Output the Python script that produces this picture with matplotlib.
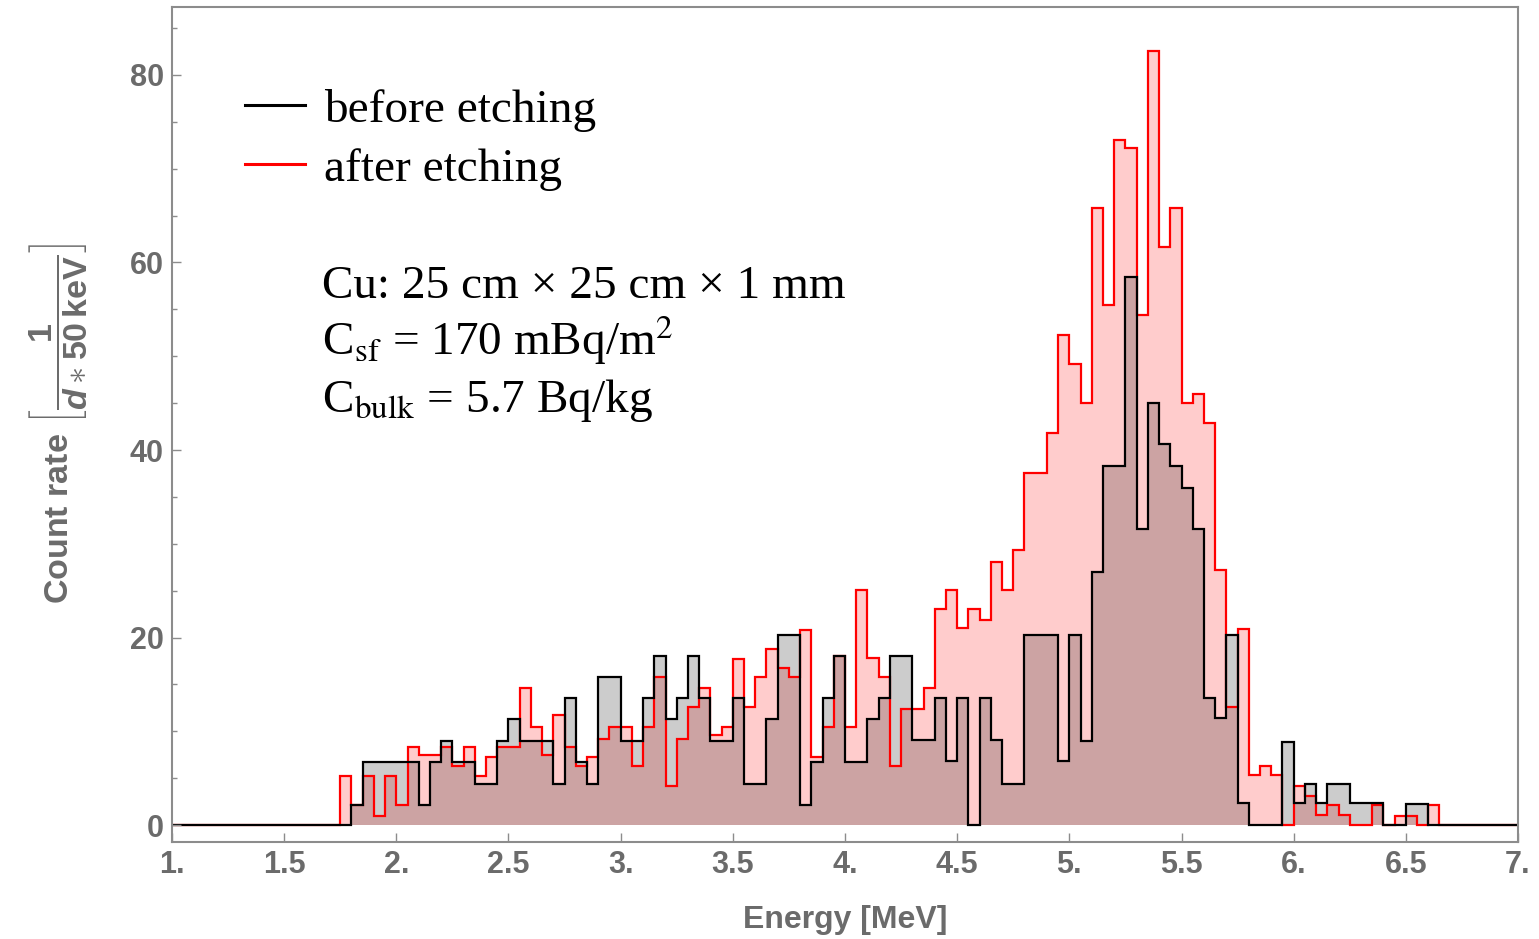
#!/usr/bin/env python

import numpy as np
import matplotlib
matplotlib.use('Agg')
import matplotlib.pyplot as plt
import matplotlib.ticker as plticker
from matplotlib.lines import Line2D

# Data: count rate per 50 keV bin, bins start at 1.75 MeV

bin_lo = 1.75
bin_hi = 6.65
bin_w = 0.05

before = [0.0, 2.1, 6.7, 6.7, 6.7, 6.7, 6.7, 2.1, 6.7, 9.0,
          6.7, 6.7, 4.4, 4.4, 9.0, 11.3, 9.0, 9.0, 9.0, 4.4,
          13.5, 6.7, 4.4, 15.8, 15.8, 9.0, 9.0, 13.6, 18.0, 11.3,
          13.6, 18.0, 13.6, 9.0, 9.0, 13.6, 4.4, 4.4, 11.3, 20.3,
          20.3, 2.1, 6.7, 13.6, 18.0, 6.7, 6.7, 11.3, 13.6, 18.0,
          18.0, 9.1, 9.1, 13.5, 6.8, 13.5, 0.0, 13.5, 9.1, 4.4,
          4.4, 20.3, 20.3, 20.3, 6.8, 20.3, 9.0, 27.0, 38.3, 38.3,
          58.5, 31.6, 45.0, 40.6, 38.3, 36.0, 31.6, 13.6, 11.4, 20.3,
          2.3, 0.0, 0.0, 0.0, 8.9, 2.3, 4.4, 2.3, 4.4, 4.4,
          2.3, 2.3, 2.3, 0.0, 0.0, 2.2, 2.2, 0.0]

after = [5.2, 2.1, 5.2, 1.0, 5.2, 2.1, 8.3, 7.5, 7.5, 8.3,
         6.3, 8.3, 5.2, 7.3, 8.3, 8.3, 14.6, 10.5, 7.5, 11.7,
         8.3, 6.3, 7.3, 9.2, 10.5, 10.5, 6.3, 10.5, 15.8, 4.2,
         9.2, 12.6, 14.6, 9.6, 10.5, 17.7, 12.6, 15.8, 18.8, 16.7,
         15.8, 20.8, 7.3, 10.5, 18.0, 10.5, 25.1, 17.8, 15.8, 6.3,
         12.4, 12.4, 14.6, 23.0, 25.1, 21.0, 23.0, 21.9, 28.1, 25.1,
         29.3, 37.6, 37.6, 41.8, 52.3, 49.2, 45.0, 65.8, 55.5, 73.1,
         72.2, 54.4, 82.6, 61.7, 65.8, 45.0, 46.0, 42.9, 27.2, 12.6,
         20.9, 5.3, 6.3, 5.3, 0.0, 4.2, 3.1, 1.1, 2.1, 1.1,
         0.0, 0.0, 2.1, 0.0, 1.0, 1.0, 0.0, 2.1]

x_ticks = [1.0, 1.5, 2.0, 2.5, 3.0, 3.5, 4.0, 4.5, 5.0, 5.5, 6.0, 6.5, 7.0]
x_tick_labels = ['1.', '1.5', '2.', '2.5', '3.', '3.5', '4.', '4.5',
                 '5.', '5.5', '6.', '6.5', '7.']
y_ticks = [0, 20, 40, 60, 80]

info_lines = ['Cu: 25 cm \u00d7 25 cm \u00d7 1 mm',
              r'C$_{\mathrm{sf}}$ = 170 mBq/m$^{2}$',
              r'C$_{\mathrm{bulk}}$ = 5.7 Bq/kg']

# Bin edges, padded with empty range out to the plot limits

edges = np.round(np.arange(bin_lo, bin_hi + bin_w / 2, bin_w), 2)
edges = np.concatenate([[1.0], edges, [7.0]])
v_before = np.concatenate([[0.0], before, [0.0]])
v_after = np.concatenate([[0.0], after, [0.0]])

GRAY = '#6b6b6b'
FRAME = '#8c8c8c'

plt.rcParams['mathtext.fontset'] = 'custom'
plt.rcParams['mathtext.rm'] = 'Liberation Sans:bold'
plt.rcParams['mathtext.it'] = 'Liberation Sans:italic:bold'
plt.rcParams['mathtext.bf'] = 'Liberation Sans:bold'

fig = plt.figure(figsize=(15.39, 9.39), dpi=100)
ax = fig.add_axes([172 / 1539, 1 - 842 / 939, (1518 - 172) / 1539, (842 - 7) / 939])

ax.stairs(v_after, edges, fill=True, color='red', alpha=0.2, lw=0)
ax.stairs(v_before, edges, fill=True, color='black', alpha=0.2, lw=0)
ax.stairs(v_after, edges, color='red', lw=1.6)
ax.stairs(v_before, edges, color='black', lw=1.6)

ax.set_xlim(1, 7)
ax.set_ylim(-1.81, 87.25)

ax.set_xticks(x_ticks)
ax.set_xticklabels(x_tick_labels)
ax.set_yticks(y_ticks)
ax.yaxis.set_minor_locator(plticker.MultipleLocator(5))

for s in ax.spines.values():
    s.set_color(FRAME)
    s.set_linewidth(1.5)

ax.tick_params(which='both', direction='in', color=FRAME, width=1.0,
               top=False, right=False)
ax.tick_params(which='major', length=6.5)
ax.tick_params(which='minor', length=3.5)
ax.tick_params(axis='x', pad=6)
ax.tick_params(axis='y', pad=6)
for lab in ax.get_xticklabels() + ax.get_yticklabels():
    lab.set_family('Liberation Sans')
    lab.set_weight('bold')
    lab.set_fontsize(22)
    lab.set_color(GRAY)

ax.set_xlabel('Energy [MeV]', family='Liberation Sans', weight='bold',
              fontsize=23, color=GRAY, labelpad=18)

fig.text(58 / 1539, 1 - 423 / 939,
         r'Count rate $\left[\dfrac{1}{d\ast50\,\mathrm{keV}}\right]$',
         rotation=90, ha='center', va='center', family='Liberation Sans',
         weight='bold', fontsize=24.5, color=GRAY)

# Legend

handles = [Line2D([], [], color='black', lw=2.2),
           Line2D([], [], color='red', lw=2.2)]
ax.legend(handles, ['before etching', 'after etching'],
          loc='upper left', bbox_to_anchor=(0.054, 0.902),
          frameon=False, prop={'family': 'Liberation Serif', 'size': 34},
          handlelength=1.27, handletextpad=0.42, labelspacing=0.33,
          borderpad=0.0, borderaxespad=0.0)

for i, t in enumerate(info_lines):
    fig.text(322 / 1539, 1 - (298 + 57 * i) / 939, t, ha='left', va='baseline',
             family='Liberation Serif', fontsize=34, color='black',
             math_fontfamily='stix')

fig.savefig('out.png', dpi=100)
